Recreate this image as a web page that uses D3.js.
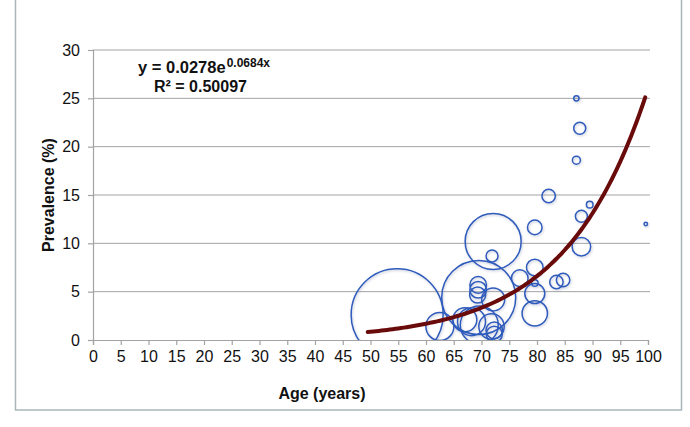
<!DOCTYPE html>
<html><head><meta charset="utf-8">
<script src="https://cdn.jsdelivr.net/npm/d3@7"></script>
<style>
html,body{margin:0;padding:0;background:#fff;}
svg{display:block;font-family:"Liberation Sans",Arial,Helvetica,sans-serif;}
</style></head>
<body>
<svg id="chart" width="690" height="427"></svg>
<script>
// ---- data ----
const ages        = [87.1, 87.7, 87.1, 82.1, 89.5, 88.0, 99.6, 79.6, 88.0, 72.1, 71.9, 69.5, 69.4, 69.4, 69.3, 72.1, 76.9, 79.6, 79.6, 79.6, 79.6, 83.5, 84.7, 54.8, 62.5, 67.0, 68.2, 69.6, 71.8, 72.3, 72.3];
const prevalence  = [25.0, 21.9, 18.6, 14.9, 14.0, 12.8, 12.0, 11.65, 9.65, 10.2, 8.7, 4.4, 5.7, 5.2, 4.65, 4.2, 6.4, 7.5, 5.9, 4.8, 2.76, 6.0, 6.2, 2.6, 1.4, 2.1, 1.9, 1.55, 1.4, 1.0, 0.6];
const sampleSize  = [7, 36, 16, 45, 11, 36, 3, 53, 86, 784, 36, 1369, 69, 69, 64, 132, 69, 69, 11, 100, 161, 45, 45, 2116, 196, 144, 196, 361, 161, 69, 64];
const xTicks = [0,5,10,15,20,25,30,35,40,45,50,55,60,65,70,75,80,85,90,95,100];
const yTicks = [0,5,10,15,20,25,30];
const trendA = 0.0278, trendB = 0.0684;
const trendAges = d3.range(49.5, 99.51, 0.5);

// ---- layout ----
const svg = d3.select("#chart");
const m = {left:93, right:648, top:50, bottom:340};
const x = d3.scaleLinear().domain([0,100]).range([m.left, m.right]);
const y = d3.scaleLinear().domain([0,30]).range([m.bottom, m.top]);
const r = d3.scaleSqrt().domain([0, 2116]).range([0, 46]);

// frame
svg.append("rect").attr("x",15.5).attr("y",-2).attr("width",666).attr("height",412)
  .attr("fill","none").attr("stroke","#aab6ba").attr("stroke-width",1.5);

const defs = svg.append("defs");
defs.append("clipPath").attr("id","plotclip").append("rect")
  .attr("x",m.left).attr("y",m.top-2).attr("width",m.right-m.left+6).attr("height",m.bottom-m.top+2);
const f = defs.append("filter").attr("id","shadow").attr("x","-20%").attr("y","-20%").attr("width","140%").attr("height","140%");
f.append("feDropShadow").attr("dx",0.8).attr("dy",1.2).attr("stdDeviation",1.2).attr("flood-color","#7a8aa8").attr("flood-opacity",0.45);

// gridlines
svg.append("g").selectAll("line").data(yTicks.filter(d=>d>0)).join("line")
  .attr("x1",m.left).attr("x2",m.right+2).attr("y1",d=>y(d)).attr("y2",d=>y(d))
  .attr("stroke","#a3a3a3").attr("stroke-width",1);

// axes
const yAxis = d3.axisLeft(y).tickValues(yTicks).tickSize(5).tickPadding(8);
const gy = svg.append("g").attr("transform",`translate(${m.left},0)`).call(yAxis);
const xAxis = d3.axisBottom(x).tickValues(xTicks).tickSize(5).tickPadding(6);
const gx = svg.append("g").attr("transform",`translate(0,${m.bottom})`).call(xAxis);
[gx,gy].forEach(g=>{
  g.select(".domain").attr("stroke","#a3a3a3").attr("stroke-width",1.2);
  g.selectAll(".tick line").attr("stroke","#a3a3a3").attr("stroke-width",1.2);
  g.selectAll(".tick text").attr("fill","#111").style("font-size","16px")
   .style("font-family","'Liberation Sans',Arial,sans-serif");
});

// bubbles
const bubbles = ages.map((a,i)=>({age:a, prev:prevalence[i], n:sampleSize[i]}));
svg.append("g").attr("clip-path","url(#plotclip)").attr("filter","url(#shadow)")
  .selectAll("circle").data(bubbles).join("circle")
  .attr("cx",d=>x(d.age)).attr("cy",d=>y(d.prev)).attr("r",d=>r(d.n))
  .attr("fill","none").attr("stroke","#2d5bbd").attr("stroke-width",1.5);

// trend line
const line = d3.line().x(d=>x(d)).y(d=>y(trendA*Math.exp(trendB*d))).curve(d3.curveMonotoneX);
svg.append("path").datum(trendAges).attr("d",line)
  .attr("fill","none").attr("stroke","#6a0b0b").attr("stroke-width",4).attr("stroke-linecap","round");

// equation
const eq = svg.append("text").attr("x",138).attr("y",73).attr("font-weight","bold").attr("font-size","16.5px").attr("fill","#111");
eq.append("tspan").text(`y = ${trendA}e`);
eq.append("tspan").attr("dx",1).attr("dy",-6).attr("font-size","12px").text(`${trendB}x`);
svg.append("text").attr("x",154).attr("y",92).attr("font-weight","bold").attr("font-size","16px").attr("fill","#111")
  .text("R² = 0.50097");

// axis titles
svg.append("text").attr("x",322).attr("y",399).attr("text-anchor","middle")
  .attr("font-weight","bold").attr("font-size","16px").attr("fill","#111").text("Age (years)");
svg.append("text").attr("transform","translate(54,195) rotate(-90)").attr("text-anchor","middle")
  .attr("font-weight","bold").attr("font-size","16px").attr("fill","#111").text("Prevalence (%)");
</script>
</body></html>
